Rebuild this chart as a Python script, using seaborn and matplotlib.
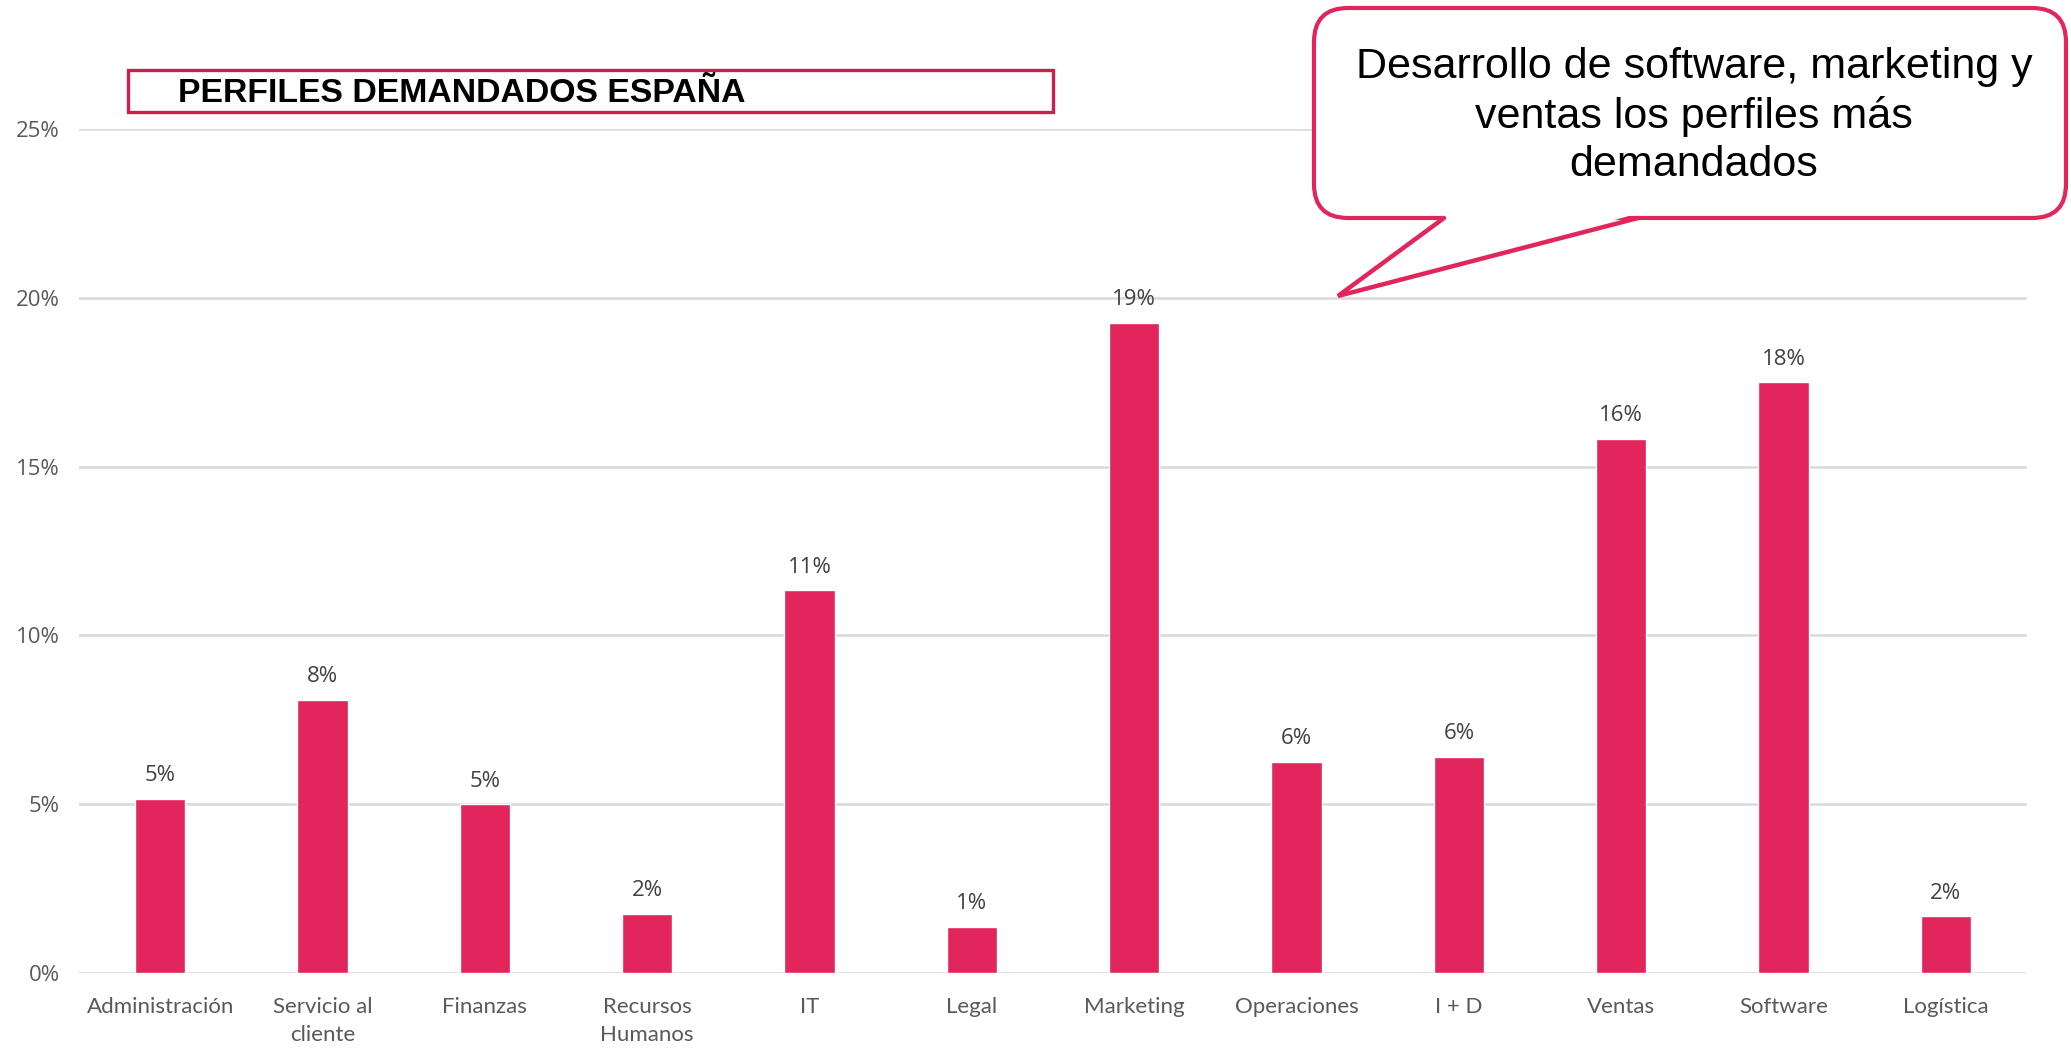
import matplotlib
matplotlib.use("Agg")
import matplotlib.pyplot as plt
import seaborn as sns
import pandas as pd
from matplotlib.patches import FancyBboxPatch, Rectangle, Polygon
from matplotlib.ticker import PercentFormatter

# data
categories = ["Administración", "Servicio al\ncliente", "Finanzas", "Recursos\nHumanos", "IT",
              "Legal", "Marketing", "Operaciones", "I + D", "Ventas", "Software", "Logística"]
shares = [5.16, 8.09, 5.0, 1.76, 11.33, 1.37, 19.26, 6.25, 6.41, 15.82, 17.5, 1.68]
value_labels = ["5%", "8%", "5%", "2%", "11%", "1%", "19%", "6%", "6%", "16%", "18%", "2%"]
y_ticks = [0, 5, 10, 15, 20, 25]

title = "PERFILES DEMANDADOS ESPAÑA"
callout = "Desarrollo de software, marketing y\nventas los perfiles más\ndemandados"

bar_color = "#E2255A"
grid_color = "#D9D9D9"
tick_color = "#595959"

df = pd.DataFrame({"perfil": categories, "pct": shares})

sns.set_style("white")
plt.rcParams["font.family"] = ["Lato", "DejaVu Sans"]

W, H = 2071, 1048
fig = plt.figure(figsize=(W / 100, H / 100), dpi=100)
ax = fig.add_axes([79 / W, 1 - 973 / H, (2027 - 79) / W, (973 - 129) / H])

sns.barplot(data=df, x="perfil", y="pct", color=bar_color, width=0.31,
            saturation=1, ax=ax, zorder=3)

ax.set_xlim(-0.5, len(categories) - 0.5)
ax.set_ylim(0, 25)
ax.set_yticks(y_ticks)
ax.yaxis.set_major_formatter(PercentFormatter(decimals=0))
ax.grid(axis="y", color=grid_color, linewidth=1.8, zorder=0)
ax.set_axisbelow(True)
for s in ax.spines.values():
    s.set_visible(False)
ax.set_xlabel("")
ax.set_ylabel("")
ax.tick_params(axis="y", length=0, pad=14, labelsize=16, labelcolor=tick_color)
ax.tick_params(axis="x", length=0, pad=17, labelsize=16, labelcolor=tick_color)
for lbl in ax.get_yticklabels():
    lbl.set_family(["Open Sans", "DejaVu Sans"])
for lbl in ax.get_xticklabels():
    lbl.set_linespacing(1.55)
    lbl.set_verticalalignment("top")

for container in ax.containers:
    ax.bar_label(container, labels=value_labels, padding=9, fontsize=16,
                 color="#404040", family=["Open Sans", "DejaVu Sans"])

# overlay in pixel coordinates for the title box and speech bubble
ov = fig.add_axes([0, 0, 1, 1], zorder=10)
ov.set_xlim(0, W)
ov.set_ylim(H, 0)
ov.axis("off")
ov.patch.set_alpha(0)

ov.add_patch(Rectangle((128, 70), 925, 42, facecolor="white", edgecolor="#CC1F4D",
                       linewidth=2.4))
ov.text(178, 93, title, fontsize=24.3, fontweight="bold", color="black",
        family=["Liberation Sans", "DejaVu Sans"], va="center", ha="left")

ov.add_patch(FancyBboxPatch((1348, 42), 684, 142,
                            boxstyle="round,pad=34,rounding_size=34",
                            facecolor="white", edgecolor=bar_color, linewidth=3))
tail = [(1444, 218), (1338, 296), (1638, 218)]
ov.add_patch(Polygon([(1446, 214)] + tail[1:2] + [(1636, 214)], closed=True,
                     facecolor="white", edgecolor="none"))
ov.plot([p[0] for p in tail], [p[1] for p in tail], color=bar_color, linewidth=3.2,
        solid_joinstyle="miter", solid_capstyle="round")
ov.text(1694, 116, callout, fontsize=31, color="black", ha="center", va="center",
        family=["Liberation Sans", "DejaVu Sans"], linespacing=1.26)

fig.savefig("out.png", dpi=100)
